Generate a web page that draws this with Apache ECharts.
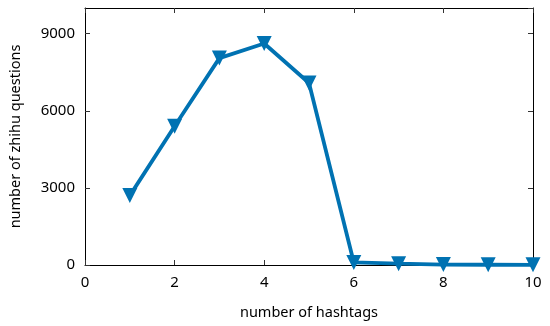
<!DOCTYPE html>
<html><head><meta charset="utf-8">
<script src="https://cdn.jsdelivr.net/npm/echarts@6/dist/echarts.min.js"></script>
<style>html,body{margin:0;padding:0;background:#fff}#c{width:550px;height:326px}</style>
</head><body><div id="c"></div>
<script>
const hashtags = [1, 2, 3, 4, 5, 6, 7, 8, 9, 10];
const questions = [2700, 5400, 8050, 8620, 7080, 100, 50, 15, 10, 5];
const xTicks = [0, 2, 4, 6, 8, 10];
const yTicks = [0, 3000, 6000, 9000];

const font = 'Noto Sans';
const chart = echarts.init(document.getElementById('c'));
const axisLine = {show: true, onZero: false, lineStyle: {color: '#000', width: 1}};
const tick = {show: true, inside: true, length: 5, lineStyle: {color: '#333'}};
chart.setOption({
  animation: false,
  grid: {left: 83, right: 17, top: 8, bottom: 61},
  xAxis: [{
    type: 'value', min: 0, max: 10, interval: 2, position: 'bottom',
    name: 'number of hashtags', nameLocation: 'middle', nameGap: 40,
    nameTextStyle: {fontFamily: font, fontSize: 14.5, color: '#000'},
    axisLine, axisTick: tick, splitLine: {show: false},
    axisLabel: {fontFamily: font, fontSize: 15, color: '#000', margin: 10,
      formatter: v => xTicks.includes(v) ? String(v) : ''}
  }, {
    type: 'value', min: 0, max: 10, interval: 2, position: 'top',
    axisLine, axisTick: tick, axisLabel: {show: false}, splitLine: {show: false}
  }],
  yAxis: [{
    type: 'value', min: 0, max: 10000, interval: 3000, position: 'left',
    name: 'number of zhihu questions', nameLocation: 'middle', nameGap: 62,
    nameTextStyle: {fontFamily: font, fontSize: 14.5, color: '#000'},
    axisLine, axisTick: tick, splitLine: {show: false},
    axisLabel: {fontFamily: font, fontSize: 15, color: '#000', margin: 10, showMaxLabel: false,
      formatter: v => yTicks.includes(v) ? String(v) : ''}
  }, {
    type: 'value', min: 0, max: 10000, interval: 3000, position: 'right',
    axisLine, axisTick: tick, axisLabel: {show: false}, splitLine: {show: false}
  }],
  series: [{
    type: 'line',
    data: hashtags.map((h, i) => [h, questions[i]]),
    symbol: 'triangle', symbolRotate: 180, symbolSize: 15,
    lineStyle: {color: '#0072B2', width: 3.8},
    itemStyle: {color: '#0072B2'},
    clip: false
  }]
});
</script></body></html>
